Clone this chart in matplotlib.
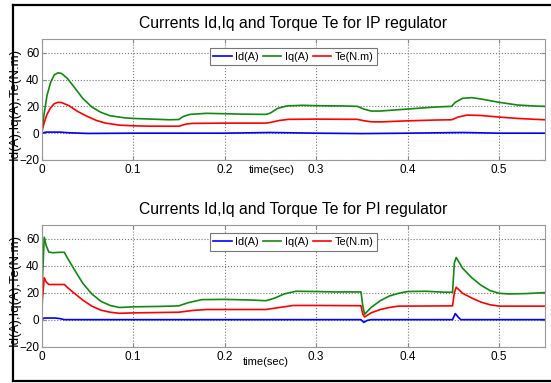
import matplotlib
matplotlib.use('Agg')
from matplotlib import pyplot as plt
from matplotlib.lines import Line2D

plt.rcParams['font.family'] = ['Liberation Sans', 'DejaVu Sans']

# IP regulator (top)
t_iq_ip = [0, 0.003, 0.006, 0.01, 0.014, 0.018, 0.022, 0.028, 0.035, 0.045, 0.055, 0.065, 0.075, 0.09, 0.1,
           0.12, 0.14, 0.15, 0.155, 0.162, 0.18, 0.2, 0.22, 0.245, 0.25, 0.258, 0.268, 0.285, 0.3, 0.33, 0.345,
           0.352, 0.36, 0.37, 0.39, 0.41, 0.43, 0.448, 0.452, 0.46, 0.47, 0.48, 0.5, 0.52, 0.54, 0.55]
iq_ip = [0, 15, 28, 38, 43.5, 45, 44.5, 41, 35, 26, 19.5, 15.5, 13, 11.5, 11,
         10.5, 10, 10.2, 12.5, 14, 14.8, 14.5, 14.2, 14, 15, 18.5, 20.3, 20.8, 20.5, 20.3, 20,
         18, 16.5, 16.5, 17.5, 18.5, 19.5, 20, 23, 26, 26.5, 25.5, 23, 21, 20.2, 20]
t_te_ip = [0, 0.003, 0.006, 0.01, 0.014, 0.018, 0.022, 0.03, 0.04, 0.05, 0.06, 0.07, 0.085, 0.1, 0.12, 0.15,
           0.158, 0.165, 0.2, 0.245, 0.25, 0.26, 0.27, 0.3, 0.345, 0.352, 0.36, 0.37, 0.4, 0.43, 0.448, 0.455,
           0.465, 0.48, 0.5, 0.52, 0.54, 0.55]
te_ip = [0, 8, 14, 19, 22, 23, 22.8, 20.5, 16, 12.5, 9.5, 7.5, 6, 5.5, 5.2, 5.2,
         6.8, 7.3, 7.5, 7.5, 8, 9.5, 10.3, 10.5, 10.3, 9.3, 8.5, 8.4, 9.2, 9.8, 10, 12,
         13.5, 13.2, 12, 11, 10.3, 10]
t_id_ip = [0, 0.005, 0.02, 0.03, 0.05, 0.1, 0.2, 0.25, 0.3, 0.35, 0.4, 0.46, 0.5, 0.55]
id_ip = [0, 0.8, 0.8, 0.3, -0.2, 0, 0, 0.5, 0, -0.3, 0, 0.5, 0, 0]

# PI regulator (bottom)
t_iq_pi = [0, 0.001, 0.003, 0.005, 0.008, 0.012, 0.02, 0.025, 0.028, 0.035, 0.045, 0.055, 0.065, 0.075, 0.085,
           0.095, 0.1, 0.13, 0.15, 0.16, 0.175, 0.2, 0.23, 0.245, 0.255, 0.265, 0.278, 0.3, 0.32, 0.349, 0.351,
           0.353, 0.36, 0.37, 0.38, 0.39, 0.4, 0.42, 0.44, 0.449, 0.451, 0.453, 0.46, 0.47, 0.48, 0.49, 0.5,
           0.51, 0.53, 0.55]
iq_pi = [0, 30, 61, 55, 50, 49.5, 49.8, 49.8, 46, 38, 27, 19, 13.5, 10.5, 9,
         9.3, 9.5, 9.8, 10.2, 12.5, 14.8, 15, 14.5, 14, 16, 19, 21, 20.8, 20.5, 20.5, 10,
         4, 9, 14, 17.5, 19.5, 20.8, 21, 20.3, 20.3, 42, 46, 38, 31, 25.5, 21.5, 19.5,
         19, 19.3, 20]
t_te_pi = [0, 0.001, 0.003, 0.005, 0.008, 0.025, 0.028, 0.035, 0.045, 0.055, 0.065, 0.075, 0.085, 0.1, 0.15,
           0.165, 0.18, 0.245, 0.26, 0.275, 0.3, 0.349, 0.351, 0.353, 0.36, 0.37, 0.38, 0.39, 0.449, 0.451,
           0.453, 0.46, 0.47, 0.48, 0.49, 0.5, 0.55]
te_pi = [0, 15, 31, 28, 26, 26, 24, 20, 14.5, 10, 7, 5.5, 4.7, 5, 5.5,
         6.8, 7.5, 7.5, 9, 10.5, 10.5, 10.3, 4, 2, 5, 7.5, 9, 10, 10.2, 20,
         24, 19.5, 16, 13, 11, 10, 10]
t_id_pi = [0, 0.003, 0.015, 0.02, 0.025, 0.1, 0.349, 0.352, 0.356, 0.36, 0.449, 0.452, 0.455, 0.458, 0.55]
id_pi = [0, 1.2, 1.2, 0.8, 0, 0, 0, -2, -0.5, 0, 0, 4.5, 2, 0, 0]

x_ticks = [0, 0.1, 0.2, 0.3, 0.4, 0.5]
x_labels = ['0', '0.1', '0.2', '0.3', '0.4', '0.5']
y_ticks = [-20, 0, 20, 40, 60]

panels = [
    ('Currents Id,Iq and Torque Te for IP regulator', t_id_ip, id_ip, t_iq_ip, iq_ip, t_te_ip, te_ip,
     [41.5 / 551, 1 - 160 / 383, 503.5 / 551, 120.7 / 383], 0.46, 0.458, -0.045),
    ('Currents Id,Iq and Torque Te for PI regulator', t_id_pi, id_pi, t_iq_pi, iq_pi, t_te_pi, te_pi,
     [41.5 / 551, 1 - 346.7 / 383, 503.5 / 551, 121.7 / 383], 0.47, 0.445, -0.085),
]

fig = plt.figure(figsize=(5.51, 3.83), dpi=100)
fig.patch.set_facecolor('white')

for title, td, vd, tq, vq, tt, vt, pos, ylab_y, xlab_x, xlab_y in panels:
    ax = fig.add_axes(pos)
    ax.plot(td, vd, color='#0000ff', lw=1.2, label='Id(A)')
    ax.plot(tq, vq, color='#108a10', lw=1.2, label='Iq(A)')
    ax.plot(tt, vt, color='#ff0000', lw=1.2, label='Te(N.m)')
    ax.set_xlim(0, 0.55)
    ax.set_ylim(-20, 70)
    ax.set_xticks(x_ticks)
    ax.set_xticklabels(x_labels)
    ax.set_yticks(y_ticks)
    ax.grid(True, linestyle=':', color='#777777', lw=0.8)
    ax.tick_params(direction='in', top=True, right=True, length=3, color='#888888', labelsize=8.5)
    ax.tick_params(axis='y', pad=1.5)
    ax.tick_params(axis='x', pad=3)
    for s in ax.spines.values():
        s.set_color('#999999')
        s.set_linewidth(0.8)
    ax.set_title(title, fontsize=11.3, pad=8)
    ax.set_ylabel('Id(A),Iq(A),Te(N.m)', fontsize=9.5)
    ax.yaxis.set_label_coords(-0.042, ylab_y)
    ax.set_xlabel('time(sec)', fontsize=8)
    ax.xaxis.set_label_coords(xlab_x, xlab_y)
    leg = ax.legend(loc='upper center', bbox_to_anchor=(0.5, 0.975), ncol=3, fontsize=7.8,
                    frameon=True, fancybox=False, edgecolor='#777777', framealpha=1,
                    handlelength=1.7, handletextpad=0.3, columnspacing=0.4, borderpad=0.35)
    leg.get_frame().set_linewidth(0.8)

# black frame (open on the right, runs off the image)
x0, y0, y1 = 13 / 551, 1 - 381 / 383, 1 - 5.3 / 383
fig.add_artist(Line2D([x0, x0], [y0, y1], transform=fig.transFigure, color='black', lw=1.6))
fig.add_artist(Line2D([x0, 1.0], [y1, y1], transform=fig.transFigure, color='black', lw=1.6))
fig.add_artist(Line2D([x0, 1.0], [y0, y0], transform=fig.transFigure, color='black', lw=1.6))

plt.savefig('out.png', dpi=100)
